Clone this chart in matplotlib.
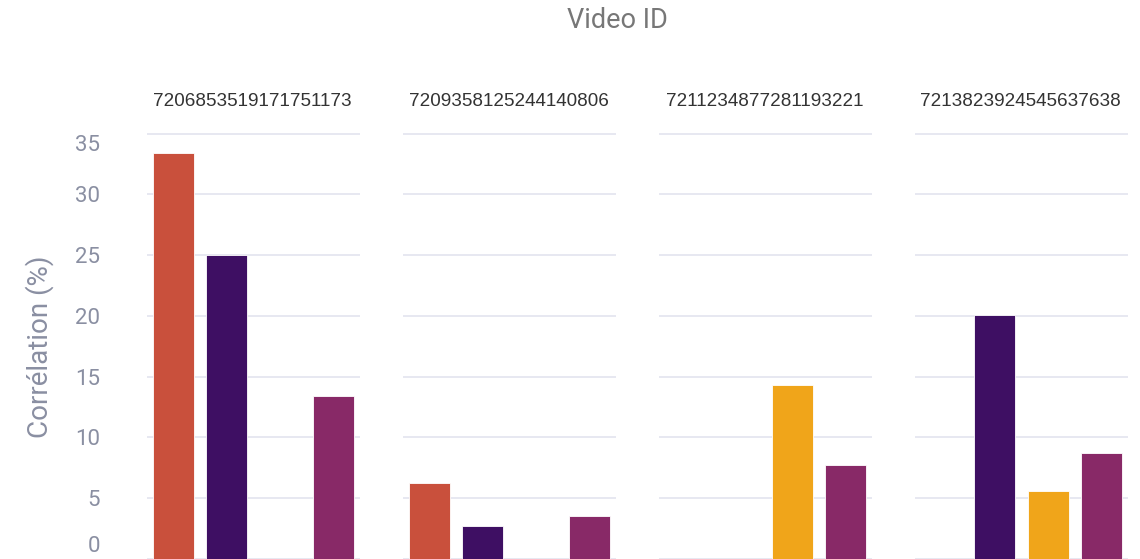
import numpy as np
import matplotlib
matplotlib.use("Agg")
import matplotlib.pyplot as plt
import matplotlib.transforms as mtransforms

# data
video_ids = ["7206853519171751173", "7209358125244140806",
             "7211234877281193221", "7213823924545637638"]
categories = ["Cat. 1", "Cat. 2", "Cat. 3", "Cat. 4"]
cat1 = [33.4, 6.25, np.nan, np.nan]
cat2 = [25.0, 2.7, np.nan, 20.1]
cat3 = [np.nan, np.nan, 14.35, 5.6]
cat4 = [13.4, 3.5, 7.7, 8.75]
colors = ["#C9503C", "#3E0F63", "#F0A51A", "#882967"]
yticks = [0, 5, 10, 15, 20, 25, 30, 35]

series = [cat1, cat2, cat3, cat4]

W, H = 1140, 559
fig = plt.figure(figsize=(W / 100, H / 100), dpi=100)

left_px = [147, 403, 659, 915]
width_px = 213
top_px = 125
bottom_px = 559
ymax = (bottom_px - top_px) / ((559 - 133.5) / 35)

grid_col = "#E7E8F1"
tick_col = "#8A8FA2"

for i, vid in enumerate(video_ids):
    ax = fig.add_axes([left_px[i] / W, 1 - bottom_px / H,
                       width_px / W, (bottom_px - top_px) / H])
    x = np.arange(len(categories))
    vals = [s[i] for s in series]
    ax.bar(x, vals, width=0.77, color=colors, edgecolor="white",
           linewidth=0.6, zorder=3)
    ax.set_xlim(-0.5, 3.5)
    ax.set_ylim(0, ymax)
    ax.set_yticks(yticks)
    ax.grid(axis="y", color=grid_col, linewidth=1.4, zorder=0)
    ax.set_xticks([])
    for sp in ax.spines.values():
        sp.set_visible(False)
    ax.tick_params(axis="y", length=0, pad=34 if i == 0 else 0,
                   labelsize=16, labelcolor=tick_col)
    if i == 0:
        for lab in ax.get_yticklabels():
            lab.set_fontfamily("Roboto")
            lab.set_horizontalalignment("right")
        labs = ax.get_yticklabels()
        labs[0].set_transform(labs[0].get_transform() +
                              mtransforms.ScaledTranslation(0, 2.5 / 100, fig.dpi_scale_trans))
        labs[0].set_verticalalignment("bottom")
        labs[-1].set_transform(labs[-1].get_transform() +
                               mtransforms.ScaledTranslation(0, -9 / 100, fig.dpi_scale_trans))
    else:
        ax.set_yticklabels([])
    fig.text((left_px[i] + width_px / 2 - 1) / W, 1 - 101 / H, vid,
             ha="center", va="center", fontsize=13.6, color="#333333",
             family="Liberation Sans")

fig.text(40 / W, 1 - 347 / H, "Corrélation (%)", rotation=90,
         ha="center", va="center", fontsize=20, color=tick_col, family="Roboto")
fig.text(617 / W, 1 - 21 / H, "Video ID", ha="center", va="center",
         fontsize=19.5, color="#777777", family="Roboto")

fig.savefig("out.png", dpi=100)
